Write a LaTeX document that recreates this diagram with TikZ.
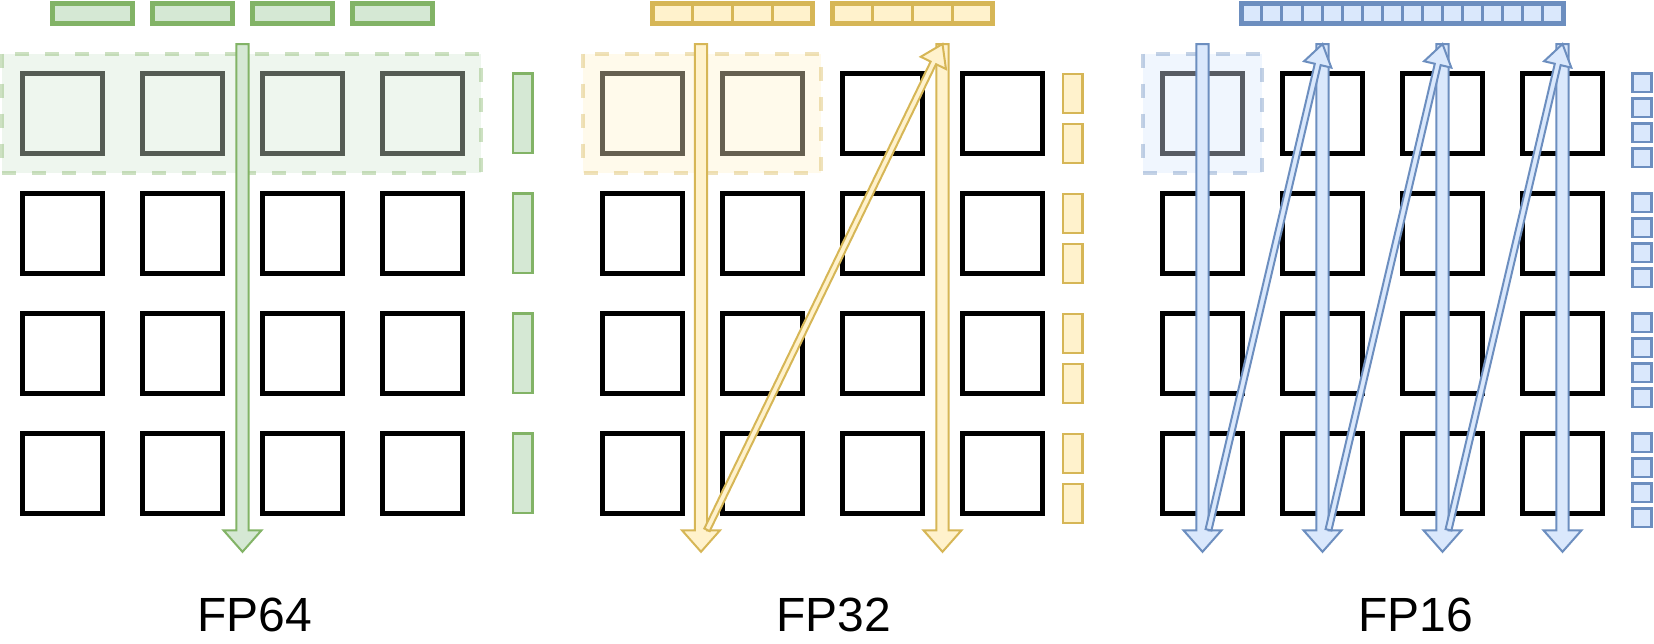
\documentclass[tikz,border=0pt]{standalone}
\usepackage{fontspec}
\setmainfont{Liberation Sans}
\usetikzlibrary{calc}

\definecolor{vertfond}{HTML}{D5E8D4}
\definecolor{vertbord}{HTML}{82B366}
\definecolor{jaunefond}{HTML}{FFF2CC}
\definecolor{jaunebord}{HTML}{D6B656}
\definecolor{bleufond}{HTML}{DAE8FC}
\definecolor{bleubord}{HTML}{6C8EBF}

% grosse fleche : depart, arrivee, demi-largeur, demi-largeur de la tete, longueur de la tete, couleur
\newcommand{\grossefleche}[6]{%
	\coordinate (col) at ($(#2)!#5!(#1)$);
	\filldraw[fill=#6fond, draw=#6bord, line width=2pt, line join=miter]
	($(#1)!#3!90:(#2)$) -- ($(col)!#3!90:(#2)$) -- ($(col)!#4!90:(#2)$) -- (#2)
	-- ($(col)!#4!-90:(#2)$) -- ($(col)!#3!-90:(#2)$) -- ($(#1)!#3!-90:(#2)$) -- cycle;
}

\begin{document}
\begin{tikzpicture}[x=1pt, y=-1pt]
			\tikzset{case/.style={rectangle, draw=black, line width=4.7pt, minimum size=80pt, inner sep=0pt, outer sep=0pt},
			zone/.style={line width=4pt, dash pattern=on 14pt off 16pt, fill opacity=0.4, draw opacity=0.4},
			barre/.style={rectangle, line width=5pt, minimum height=20.5pt, inner sep=0pt, outer sep=0pt},
			petite/.style={rectangle, line width=2.6pt, minimum width=19.4pt, inner sep=0pt, outer sep=0pt},
			titre/.style={anchor=base, inner sep=0pt, font=\fontsize{48}{58}\selectfont}};

			\useasboundingbox (0,0) rectangle (1654,643);

			% les cases
			\foreach \p/\x in {64/62.5, 32/642.5, 16/1202.5}{
				\foreach \i in {0,...,3}{
					\foreach \j in {0,...,3}{
						\node[case] (c\p-\i-\j) at (\x+120*\i, 113.5+120*\j) {};
					}
				}
			}

			% zones lues
			\filldraw[zone, fill=vertfond, draw=vertbord] (2,53.7) rectangle (481,173.3);
			\filldraw[zone, fill=jaunefond, draw=jaunebord] (583.3,53.7) rectangle (821.4,173.3);
			\filldraw[zone, fill=bleufond, draw=bleubord] (1143,53.7) rectangle (1261.7,173.3);

			% barres du haut
			\foreach \i in {0,...,3}{
				\node[barre, fill=vertfond, draw=vertbord, minimum width=80pt] (b64-\i) at (92.5+100*\i, 13.7) {};
			}
			\foreach \i in {0,1}{
				\node[barre, fill=jaunefond, draw=jaunebord, minimum width=160.3pt] (b32-\i) at (732.2+180*\i, 13.7) {};
				\foreach \k in {1,2,3}{
					\draw[jaunebord, line width=3pt] ($(b32-\i.north west)!\k/4!(b32-\i.north east)$) -- ($(b32-\i.south west)!\k/4!(b32-\i.south east)$);
				}
			}
			\node[barre, fill=bleufond, draw=bleubord, minimum width=321.3pt] (b16) at (1402.4, 13.7) {};
			\foreach \k in {1,...,15}{
				\draw[bleubord, line width=3pt] ($(b16.north west)!\k/16!(b16.north east)$) -- ($(b16.south west)!\k/16!(b16.south east)$);
			}

			% barres de droite
			\foreach \j in {0,...,3}{
				\node[petite, fill=vertfond, draw=vertbord, minimum height=79.7pt] (s64-\j) at (522.5, 113.2+120*\j) {};
				\foreach \k in {0,1}{
					\node[petite, fill=jaunefond, draw=jaunebord, minimum height=39.1pt] (s32-\j-\k) at (1072.5, 93.5+50*\k+120*\j) {};
				}
				\foreach \k in {0,...,3}{
					\node[petite, fill=bleufond, draw=bleubord, minimum width=19pt, minimum height=18.6pt] (s16-\j-\k) at (1642, 82.5+25*\k+120*\j) {};
				}
			}

			% fleches
			\coordinate (h64) at (242.5,44);
			\coordinate (f64) at (242.5,551.8);
			\grossefleche{h64}{f64}{6.2pt}{19pt}{21.5pt}{vert}

			\foreach \i/\x in {1/701, 2/942.5}{
				\coordinate (h32-\i) at (\x,44);
				\coordinate (f32-\i) at (\x,551.8);
				\grossefleche{h32-\i}{f32-\i}{6.2pt}{19pt}{21.5pt}{jaune}
			}
			\coordinate (d32) at ($(f32-1)+(6,-22)$);
			\grossefleche{d32}{h32-2}{3pt}{14pt}{21pt}{jaune}

			\foreach \i in {1,...,4}{
				\coordinate (h16-\i) at (1082.5+120*\i,44);
				\coordinate (f16-\i) at (1082.5+120*\i,551.8);
				\grossefleche{h16-\i}{f16-\i}{6.2pt}{19pt}{21.5pt}{bleu}
			}
			\foreach \i/\n in {1/2, 2/3, 3/4}{
				\coordinate (d16-\i) at ($(f16-\i)+(6,-22)$);
				\grossefleche{d16-\i}{h16-\n}{3pt}{14pt}{21pt}{bleu}
			}

			\node[titre] (t64) at (254.5,631) {FP64};
			\node[titre] (t32) at (833.5,631) {FP32};
			\node[titre] (t16) at (1416,631) {FP16};

		\end{tikzpicture}
\end{document}
